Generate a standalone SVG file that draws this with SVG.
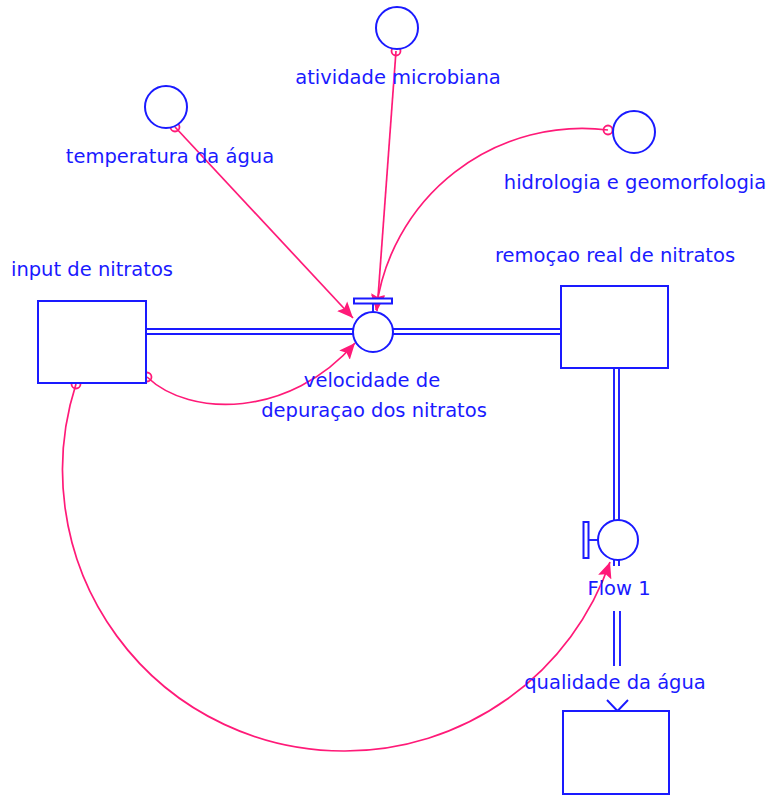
<svg xmlns="http://www.w3.org/2000/svg" width="768" height="796" viewBox="0 0 768 796">
<style>
.box{fill:#fff;stroke:#1a1aff;stroke-width:2}
.valve{fill:#fff;stroke:#1a1aff;stroke-width:2}
.pipe{fill:none;stroke:#1a1aff;stroke-width:1.9}
.link{fill:none;stroke:#ff1a78;stroke-width:1.7}
.org{fill:none;stroke:#ff1a78;stroke-width:1.8}
.lbl{font-family:"DejaVu Sans",sans-serif;font-size:19.5px;fill:#1a1aff;text-anchor:middle}
</style>
<defs>
<marker id="ah" markerUnits="userSpaceOnUse" markerWidth="18" markerHeight="16" refX="16" refY="8" orient="auto">
<path d="M0,1 L16,8 L0,15 L3,8 Z" fill="#ff1a78"/>
</marker>
</defs>
<rect width="768" height="796" fill="#fff"/>

<g id="connectors">
<line class="pipe" x1="146" y1="329" x2="353" y2="329"/>
<line class="pipe" x1="146" y1="334" x2="353" y2="334"/>
<line class="pipe" x1="393" y1="329" x2="561" y2="329"/>
<line class="pipe" x1="393" y1="334" x2="561" y2="334"/>
<line class="pipe" x1="614" y1="368" x2="614" y2="520"/>
<line class="pipe" x1="619" y1="368" x2="619" y2="520"/>
<line class="pipe" x1="614" y1="560" x2="614" y2="566"/>
<line class="pipe" x1="619" y1="560" x2="619" y2="566"/>
<line class="pipe" x1="614" y1="611" x2="614" y2="666"/>
<line class="pipe" x1="620" y1="611" x2="620" y2="666"/>
<path class="pipe" d="M607,700 L617.5,711 L628,700"/>
<line class="link" x1="175" y1="127" x2="353" y2="318" marker-end="url(#ah)"/>
<line class="link" x1="396" y1="51" x2="377" y2="311" marker-end="url(#ah)"/>
<path class="link" d="M608,130 A208,208 0 0 0 376,310" marker-end="url(#ah)"/>
<path class="link" d="M147,377 C190,418 290,418 355,343" marker-end="url(#ah)"/>
<path class="link" d="M76,384 A281,281 0 0 0 345,751 A281,281 0 0 0 610,562" marker-end="url(#ah)"/>
<circle class="org" cx="175" cy="127" r="4.5"/>
<circle class="org" cx="396" cy="51" r="4.5"/>
<circle class="org" cx="608" cy="130" r="4.5"/>
<circle class="org" cx="147" cy="377" r="4.5"/>
<circle class="org" cx="76" cy="384" r="4.5"/>
</g>

<g id="input-de-nitratos">
<rect class="box" x="38" y="301" width="108" height="82"/>
<text class="lbl" x="92" y="276">input de nitratos</text>
</g>

<g id="remocao-real-de-nitratos">
<rect class="box" x="561" y="286" width="107" height="82"/>
<text class="lbl" x="615" y="262">remoçao real de nitratos</text>
</g>

<g id="qualidade-da-agua">
<rect class="box" x="563" y="711" width="106" height="83"/>
<text class="lbl" x="615" y="689">qualidade da água</text>
</g>

<g id="velocidade-de-depuracao">
<rect class="valve" x="354" y="298.5" width="38" height="5"/>
<line class="pipe" x1="373" y1="303.5" x2="373" y2="312"/>
<circle class="valve" cx="373" cy="332" r="20"/>
<text class="lbl" x="372" y="387">velocidade de</text>
<text class="lbl" x="374" y="417">depuraçao dos nitratos</text>
</g>

<g id="flow-1">
<rect class="valve" x="583.5" y="522" width="5" height="36"/>
<line class="pipe" x1="588.5" y1="540" x2="598" y2="540"/>
<circle class="valve" cx="618" cy="540" r="20"/>
<text class="lbl" x="619" y="595">Flow 1</text>
</g>

<g id="temperatura-da-agua">
<circle class="valve" cx="166" cy="107" r="21"/>
<text class="lbl" x="170" y="163">temperatura da água</text>
</g>

<g id="atividade-microbiana">
<circle class="valve" cx="397" cy="28" r="21"/>
<text class="lbl" x="398" y="84">atividade microbiana</text>
</g>

<g id="hidrologia-e-geomorfologia">
<circle class="valve" cx="634" cy="132" r="21"/>
<text class="lbl" x="635" y="189">hidrologia e geomorfologia</text>
</g>
</svg>
